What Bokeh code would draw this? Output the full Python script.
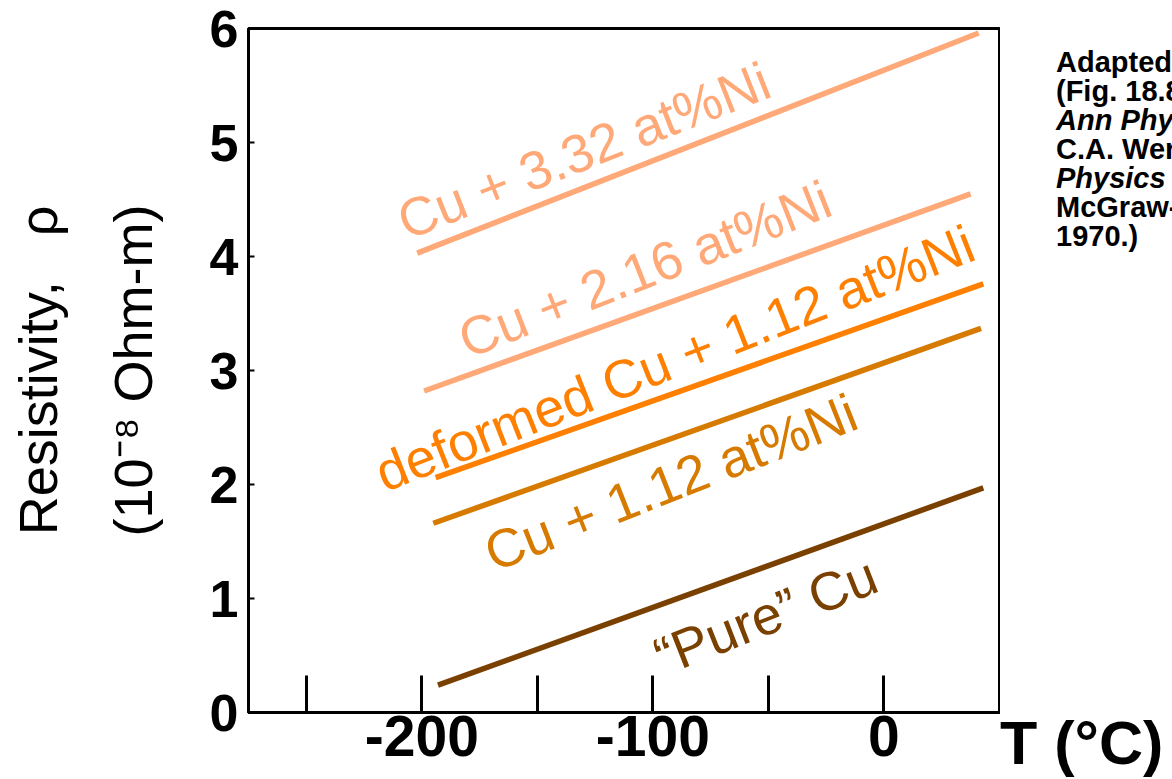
from bokeh.plotting import figure
from bokeh.models import Range1d, FixedTicker, Label, Div
from bokeh.layouts import row
from bokeh.embed import file_html
from bokeh.resources import INLINE
import html
import math

# ---------------- data ----------------
series_names = ["Cu + 3.32 at%Ni", "Cu + 2.16 at%Ni", "deformed Cu + 1.12 at%Ni",
                "Cu + 1.12 at%Ni", "\u201cPure\u201d Cu"]
temp_c = [[-202, 41], [-199, 37.5], [-194, 43], [-195, 42], [-193, 43]]
resistivity = [[4.03, 5.96], [2.82, 4.55], [2.06, 3.76], [1.66, 3.37], [0.24, 1.97]]

x_ticks = [-250, -200, -150, -100, -50, 0]
x_tick_labels = {-250: "", -200: "-200", -150: "", -100: "-100", -50: "", 0: "0"}
y_ticks = [0, 1, 2, 3, 4, 5, 6]

y_title = "Resistivity, \u00a0\u00a0\u03c1\n(10\u207b\u2078 Ohm-m)"
x_title = "T (\u00b0C)"

caption_lines = [
    [("Adapted from Fig. 18.8, Callister & Rethwisch 8e.", False)],
    [("(Fig. 18.8 adapted from J.O. Linde,", False)],
    [("Ann Physik", True), (" 5, 219 (1932); and", False)],
    [("C.A. Wert and R.M. Thomson,", False)],
    [("Physics of Solids", True), (", 2nd ed.,", False)],
    [("McGraw-Hill Book Company, New York,", False)],
    [("1970.)", False)],
]

# ---------------- style / layout ----------------
colors = ["#FFA878", "#FFA878", "#FF8000", "#D67A00", "#7A4000"]
label_pos = [(-130.0, 4.93), (-103.6, 3.89), (-90.6, 3.11), (-92.3, 2.02), (-51.2, 0.85)]
label_angle = math.radians(21.5)
FONT = "Liberation Sans"

p = figure(width=1000, height=779, output_backend="svg", toolbar_location=None,
           x_range=Range1d(-275, 50), y_range=Range1d(0, 6),
           min_border_left=248, min_border_right=1, min_border_top=28,
           min_border_bottom=67)
p.background_fill_color = "white"
p.border_fill_color = "white"
p.outline_line_color = "black"
p.outline_line_width = 3
p.xgrid.visible = False
p.ygrid.visible = False

for xs, ys, c in zip(temp_c, resistivity, colors):
    p.line(xs, ys, line_color=c, line_width=5.5)

for name, (lx, ly), c in zip(series_names, label_pos, colors):
    p.add_layout(Label(x=lx, y=ly, text=name, angle=label_angle,
                       text_align="center", text_baseline="middle",
                       text_color=c, text_font=FONT, text_font_size="54px"))

# x axis
xa = p.xaxis[0]
xa.ticker = FixedTicker(ticks=x_ticks)
xa.major_label_overrides = x_tick_labels
xa.minor_tick_line_color = None
xa.major_tick_in = 37
xa.major_tick_out = 0
xa.major_tick_line_width = 3
xa.axis_line_width = 3
xa.major_label_standoff = 3
xa.major_label_text_font = FONT
xa.major_label_text_font_style = "bold"
xa.major_label_text_font_size = "57px"
xa.major_label_text_color = "black"

# y axis
ya = p.yaxis[0]
ya.ticker = FixedTicker(ticks=y_ticks)
ya.minor_tick_line_color = None
ya.major_tick_in = 6
ya.major_tick_out = 0
ya.major_tick_line_width = 2
ya.axis_line_width = 3
ya.major_label_standoff = 10
ya.major_label_text_font = FONT
ya.major_label_text_font_style = "bold"
ya.major_label_text_font_size = "52px"
ya.major_label_text_color = "black"
ya.axis_label = y_title
ya.axis_label_text_font = FONT
ya.axis_label_text_font_style = "normal"
ya.axis_label_text_font_size = "54px"
ya.axis_label_text_color = "black"
ya.axis_label_standoff = 44
ya.axis_label_text_line_height = 1.58

# right-hand strip: x-axis title and the (cropped) source caption
cap_lines_html = []
for parts in caption_lines:
    seg = ""
    for text, ital in parts:
        t = html.escape(text)
        seg += f"<i>{t}</i>" if ital else t
    cap_lines_html.append(seg)

strip_html = (
    "<div style=\"position:relative;width:172px;height:779px;overflow:hidden;"
    "font-family:'Liberation Sans',Arial,sans-serif;color:#000;background:#fff;\">"
    "<div style=\"position:absolute;left:56px;top:48px;white-space:nowrap;"
    "font-weight:bold;font-size:29px;line-height:29px;\">"
    + "<br>".join(cap_lines_html) +
    "</div>"
    "<div style=\"position:absolute;left:0px;top:713px;white-space:nowrap;"
    "font-weight:bold;font-size:61px;line-height:61px;\">"
    + html.escape(x_title) +
    "</div></div>"
)
strip = Div(text=strip_html, width=172, height=779, margin=0)

layout = row(p, strip, spacing=0)
open("out.html", "w").write(file_html(layout, INLINE))
